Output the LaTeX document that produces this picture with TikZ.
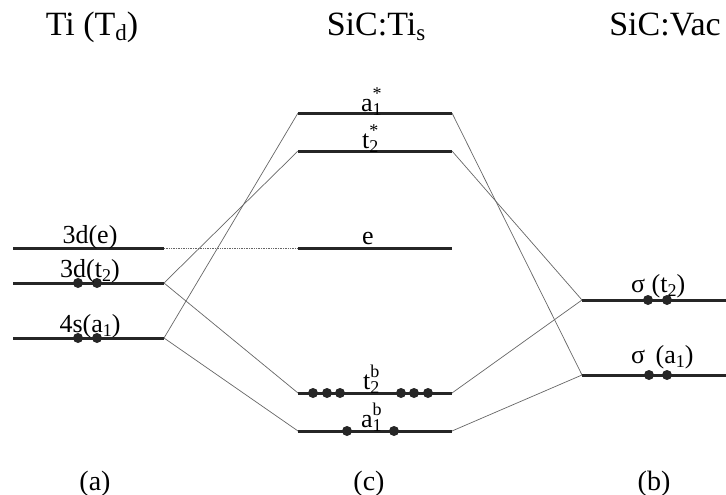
\documentclass[tikz,border=0pt]{standalone}
\usepackage{fontspec}
\setmainfont{Liberation Serif}
\newcommand{\tsb}[1]{\raisebox{-0.3ex}{\fontsize{23}{25}\selectfont #1}}
\newcommand{\lsb}[1]{\raisebox{-0.35ex}{\fontsize{18}{20}\selectfont #1}}
\newcommand{\lsbsp}[2]{\makebox[0pt][l]{\raisebox{0.95ex}{\fontsize{18}{20}\selectfont #2}}\raisebox{-0.35ex}{\fontsize{18}{20}\selectfont #1}}
\begin{document}
\begin{tikzpicture}[x=1pt,y=-1pt,
  level/.style={line width=3pt, black!85},
  conn/.style={line width=0.7pt, black!60},
  elec/.style={circle, fill=black!85, inner sep=0pt, minimum size=10pt},
  title/.style={font=\fontsize{34}{38}\selectfont, anchor=base, inner sep=0pt},
  lab/.style={font=\fontsize{26}{30}\selectfont, anchor=base, inner sep=0pt},
  clab/.style={font=\fontsize{26}{30}\selectfont, anchor=base west, inner sep=0pt},
  tag/.style={font=\fontsize{28}{32}\selectfont, anchor=base, inner sep=0pt}]
\useasboundingbox (0,0) rectangle (726,495);
% coordinates of level ends
\coordinate (deL) at (13,248);  \coordinate (deR) at (164,248);
\coordinate (dtL) at (13,283);  \coordinate (dtR) at (164,283);
\coordinate (saL) at (13,338);  \coordinate (saR) at (164,338);
\coordinate (asL) at (298,113); \coordinate (asR) at (452,113);
\coordinate (tsL) at (298,151); \coordinate (tsR) at (452,151);
\coordinate (eL)  at (298,248); \coordinate (eR)  at (452,248);
\coordinate (tbL) at (298,393); \coordinate (tbR) at (452,393);
\coordinate (abL) at (298,431); \coordinate (abR) at (452,431);
\coordinate (vtL) at (582,300); \coordinate (vtR) at (726,300);
\coordinate (vaL) at (582,375); \coordinate (vaR) at (726,375);
% connectors
\draw[conn, densely dotted] (deR) -- (eL);
\draw[conn] (dtR) -- (tsL);
\draw[conn] (dtR) -- (tbL);
\draw[conn] (saR) -- (asL);
\draw[conn] (saR) -- (abL);
\draw[conn] (asR) -- (vaL);
\draw[conn] (tsR) -- (vtL);
\draw[conn] (tbR) -- (vtL);
\draw[conn] (abR) -- (vaL);
% levels
\foreach \a/\b in {deL/deR,dtL/dtR,saL/saR,asL/asR,tsL/tsR,eL/eR,tbL/tbR,abL/abR,vtL/vtR,vaL/vaR}
  \draw[level] (\a) -- (\b);
% electrons
\node[elec] (e1) at (78,283) {};
\node[elec] (e2) at (97,283) {};
\node[elec] (e3) at (78,338) {};
\node[elec] (e4) at (97,338) {};
\node[elec] (e5) at (313,393) {};
\node[elec] (e6) at (327,393) {};
\node[elec] (e7) at (340,393) {};
\node[elec] (e8) at (401,393) {};
\node[elec] (e9) at (414,393) {};
\node[elec] (e10) at (428,393) {};
\node[elec] (e11) at (347,431) {};
\node[elec] (e12) at (394,431) {};
\node[elec] (e13) at (648,300) {};
\node[elec] (e14) at (667,300) {};
\node[elec] (e15) at (649,375) {};
\node[elec] (e16) at (667,375) {};
% titles
\node[title] (t1) at (92,36) {Ti (T\tsb{d})};
\node[title] (t2) at (376,36) {SiC:Ti\tsb{s}};
\node[title] (t3) at (665,36) {SiC:Vac};
% level labels
\node[lab] (l1) at (90,243) {3d(e)};
\node[lab] (l2) at (90,277) {3d(t\lsb{2})};
\node[lab] (l3) at (90,332) {4s(a\lsb{1})};
\node[clab] (l4) at (361,111) {a\lsbsp{1}{*}};
\node[clab] (l5) at (362,148) {t\lsbsp{2}{*}};
\node[clab] (l6) at (362,244) {e};
\node[clab] (l7) at (363,389) {t\lsbsp{2}{b}};
\node[clab] (l8) at (361,427) {a\lsbsp{1}{b}};
\node[lab, anchor=base west] (l9) at (631,292) {σ (t\lsb{2})};
\node[lab, anchor=base west] (l10) at (631,363) {σ\hspace{0.4em}(a\lsb{1})};
% tags
\node[tag] (g1) at (95,490) {(a)};
\node[tag] (g2) at (369,490) {(c)};
\node[tag] (g3) at (654,490) {(b)};
\end{tikzpicture}
\end{document}
